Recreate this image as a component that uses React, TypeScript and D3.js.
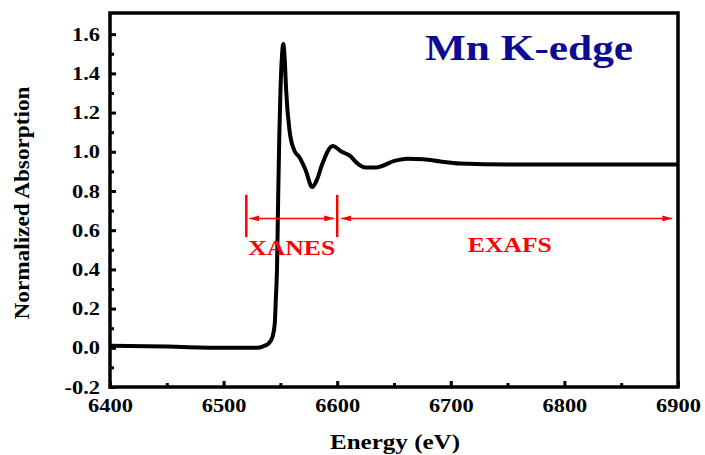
import { useEffect, useRef } from "react";
import { select, scaleLinear, axisBottom, axisLeft, line, curveMonotoneX, range } from "d3";

// spectrum
const energy = [6400, 6450, 6500, 6530, 6536, 6540, 6543, 6545, 6546, 6547, 6548, 6549, 6550, 6551.5, 6552.5, 6554, 6555, 6558, 6562, 6567, 6572, 6578, 6582, 6587, 6596, 6604, 6611, 6618, 6625, 6634, 6651, 6662, 6676, 6691, 6708, 6750, 6800, 6850, 6900];
const absorption = [0.01, 0.006, 0.0, 0.0, 0.01, 0.025, 0.055, 0.12, 0.25, 0.4, 0.75, 1.07, 1.3, 1.5, 1.55, 1.45, 1.32, 1.11, 1.01, 0.97, 0.91, 0.82, 0.855, 0.94, 1.03, 1.0, 0.98, 0.94, 0.92, 0.92, 0.955, 0.965, 0.962, 0.95, 0.94, 0.935, 0.935, 0.935, 0.935];

const xTicks = [6400, 6500, 6600, 6700, 6800, 6900];
const yTicks = [-0.2, 0.0, 0.2, 0.4, 0.6, 0.8, 1.0, 1.2, 1.4, 1.6];

// region markers
const regionBounds = [6520, 6600];
const regionNames = ["XANES", "EXAFS"];
const exafsEnd = 6895;

const width = 705;
const height = 455;
const left = 110;
const right = 678;
const top = 13;
const bottom = 387;
const font = "Liberation Serif";
const stretch = "scale(1.18,1)";

const App = () => {
  const svgRef = useRef<SVGSVGElement>(null);

  const x = scaleLinear().domain([6400, 6900]).range([left, right]);
  const y = scaleLinear().domain([-0.2, 1.708]).range([bottom, top]);

  const path = line<number>()
    .x((d, i) => x(energy[i]))
    .y((d) => y(d))
    .curve(curveMonotoneX);

  useEffect(() => {
    const svg = select(svgRef.current);

    const styleAxis = (g: any) => {
      g.select(".domain").remove();
      g.selectAll("line").attr("stroke", "#000").attr("stroke-width", 3);
      g.selectAll("text")
        .attr("font-family", font)
        .attr("font-weight", "bold")
        .attr("font-size", 19)
        .attr("fill", "#000")
        .attr("transform", stretch);
    };

    svg.select(".x-minor")
      .call(axisBottom(x).tickValues(range(6450, 6900, 100)).tickSize(-4).tickFormat(() => "") as any)
      .call(styleAxis);
    svg.select(".x-axis")
      .call(axisBottom(x).tickValues(xTicks).tickSize(-6).tickPadding(12).tickFormat((d: any) => String(d)) as any)
      .call(styleAxis);
    svg.select(".y-minor")
      .call(axisLeft(y).tickValues(range(-0.1, 1.7, 0.2)).tickSize(-4).tickFormat(() => "") as any)
      .call(styleAxis);
    svg.select(".y-axis")
      .call(axisLeft(y).tickValues(yTicks).tickSize(-6).tickPadding(8.5).tickFormat((d: any) => (+d).toFixed(1)) as any)
      .call(styleAxis);
  }, []);

  const arrowY = y(0.66);
  const barTop = y(0.78);
  const barBottom = y(0.565);
  const red = "#ff0000";
  const xa = x(regionBounds[0]);
  const xb = x(regionBounds[1]);
  const xe = x(exafsEnd);

  return (
    <svg ref={svgRef} width={width} height={height} style={{ position: "absolute", left: 0, top: 0, background: "#fff" }}>
      <defs>
        <marker id="ah" viewBox="0 0 10 6" refX="10" refY="3" markerWidth="10" markerHeight="6" markerUnits="userSpaceOnUse" orient="auto-start-reverse">
          <path d="M0,0 L10,3 L0,6 Z" fill={red} />
        </marker>
      </defs>
      <g className="x-minor" transform={`translate(0,${bottom})`} />
      <g className="x-axis" transform={`translate(0,${bottom})`} />
      <g className="y-minor" transform={`translate(${left},0)`} />
      <g className="y-axis" transform={`translate(${left},0)`} />

      <path d={path(absorption) ?? ""} fill="none" stroke="#000" strokeWidth={4} strokeLinejoin="round" />

      <rect x={left} y={top} width={right - left} height={bottom - top} fill="none" stroke="#000" strokeWidth={3.5} />

      {/* region annotations */}
      <line x1={xa} x2={xa} y1={barTop} y2={barBottom} stroke={red} strokeWidth={2.5} />
      <line x1={xb} x2={xb} y1={barTop} y2={barBottom} stroke={red} strokeWidth={2.5} />
      <line x1={xa + 3} x2={xb - 3} y1={arrowY} y2={arrowY} stroke={red} strokeWidth={1.5} markerStart="url(#ah)" markerEnd="url(#ah)" />
      <line x1={xb + 4} x2={xe} y1={arrowY} y2={arrowY} stroke={red} strokeWidth={1.5} markerStart="url(#ah)" markerEnd="url(#ah)" />
      <text x={(xa + xb) / 2} y={255} textAnchor="middle" fill={red} fontFamily={font} fontWeight="bold" fontSize={22} textLength={87} lengthAdjust="spacingAndGlyphs">
        {regionNames[0]}
      </text>
      <text x={x(6752)} y={252} textAnchor="middle" fill={red} fontFamily={font} fontWeight="bold" fontSize={22} textLength={84} lengthAdjust="spacingAndGlyphs">
        {regionNames[1]}
      </text>

      <text x={425} y={60} fill="#0b0b94" fontFamily={font} fontWeight="bold" fontSize={36} textLength={208} lengthAdjust="spacingAndGlyphs">
        Mn K-edge
      </text>

      <text x={(left + right) / 2 + 1} y={449} textAnchor="middle" fontFamily={font} fontWeight="bold" fontSize={21} textLength={130} lengthAdjust="spacingAndGlyphs">
        Energy (eV)
      </text>
      <text transform="translate(29,203) rotate(-90)" textAnchor="middle" fontFamily={font} fontWeight="bold" fontSize={21} textLength={233} lengthAdjust="spacingAndGlyphs">
        Normalized Absorption
      </text>
    </svg>
  );
};

export default App;
